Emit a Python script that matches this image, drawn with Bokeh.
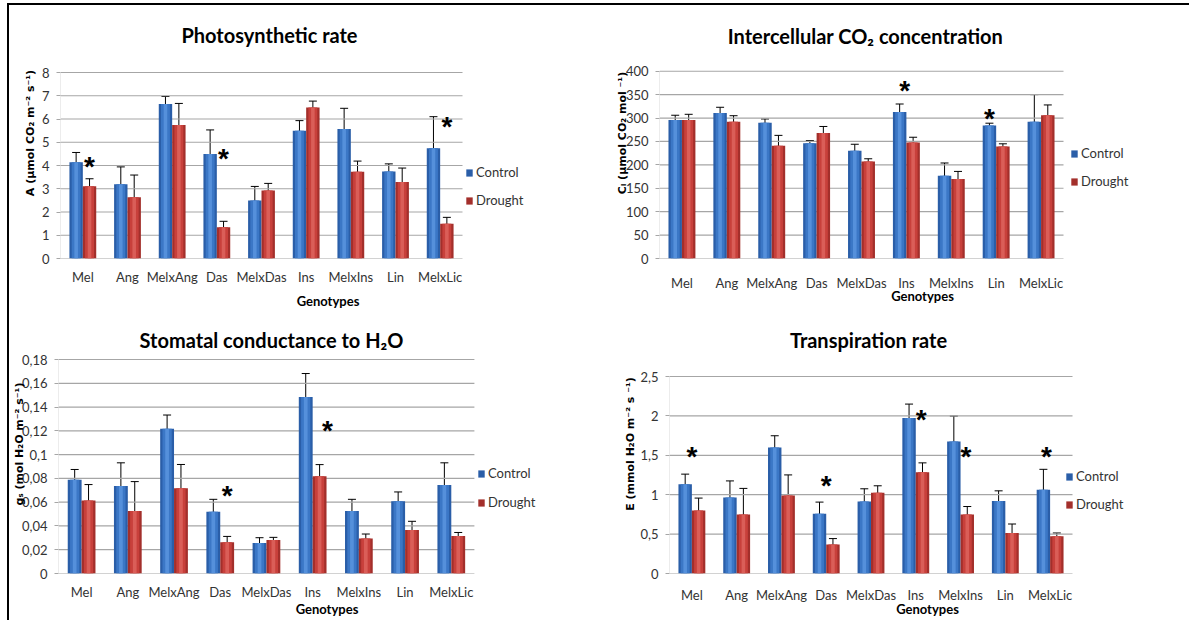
from bokeh.plotting import figure
from bokeh.models import (ColumnDataSource, Range1d, FixedTicker, Whisker, TeeHead, Legend,
                          LegendItem, Label)
from bokeh.layouts import column, row
from bokeh.embed import file_html
from bokeh.resources import INLINE
from bokeh.core.properties import value

# ---------------- data ----------------
genotypes = ["Mel", "Ang", "MelxAng", "Das", "MelxDas", "Ins", "MelxIns", "Lin", "MelxLic"]
series_names = ["Control", "Drought"]

# Photosynthetic rate A
A_control = [4.14, 3.19, 6.64, 4.50, 2.50, 5.50, 5.57, 3.74, 4.74]
A_control_err = [0.42, 0.75, 0.33, 1.03, 0.60, 0.43, 0.89, 0.33, 1.36]
A_drought = [3.11, 2.63, 5.74, 1.34, 2.93, 6.50, 3.73, 3.29, 1.49]
A_drought_err = [0.32, 0.96, 0.93, 0.26, 0.30, 0.27, 0.46, 0.60, 0.28]
A_stars = [("Mel", 0.15, 4.07), ("Das", 0.15, 4.43), ("MelxLic", 0.15, 5.79)]
A_yticks = [0, 1, 2, 3, 4, 5, 6, 7, 8]
A_yticklabels = ["0", "1", "2", "3", "4", "5", "6", "7", "8"]

# Intercellular CO2 concentration Ci
Ci_control = [296, 311, 290, 246, 230, 313, 177, 284, 292]
Ci_control_err = [10, 12, 8, 6, 14, 17, 27, 5, 58]
Ci_drought = [296, 292, 241, 268, 207, 248, 170, 239, 306]
Ci_drought_err = [12, 13, 22, 14, 6, 11, 16, 6, 22]
Ci_stars = [("Ins", -0.04, 365), ("Lin", -0.15, 306)]
Ci_yticks = [0, 50, 100, 150, 200, 250, 300, 350, 400]
Ci_yticklabels = ["0", "50", "100", "150", "200", "250", "300", "350", "400"]

# Stomatal conductance gs
gs_control = [0.0788, 0.0737, 0.1218, 0.0520, 0.0256, 0.1485, 0.0526, 0.0608, 0.0745]
gs_control_err = [0.0087, 0.0194, 0.0115, 0.0104, 0.0045, 0.0197, 0.0098, 0.0078, 0.0186]
gs_drought = [0.0613, 0.0526, 0.0717, 0.0262, 0.0281, 0.0818, 0.0295, 0.0366, 0.0315]
gs_drought_err = [0.0135, 0.0247, 0.0200, 0.0050, 0.0023, 0.0098, 0.0037, 0.0073, 0.0030]
gs_stars = [("Das", 0.15, 0.0683), ("Ins", 0.32, 0.1232)]
gs_yticks = [0, 0.02, 0.04, 0.06, 0.08, 0.1, 0.12, 0.14, 0.16, 0.18]
gs_yticklabels = ["0", "0,02", "0,04", "0,06", "0,08", "0,1", "0,12", "0,14", "0,16", "0,18"]

# Transpiration rate E
E_control = [1.134, 0.965, 1.598, 0.759, 0.915, 1.973, 1.674, 0.919, 1.062]
E_control_err = [0.127, 0.210, 0.150, 0.147, 0.160, 0.177, 0.324, 0.130, 0.260]
E_drought = [0.801, 0.750, 0.991, 0.367, 1.024, 1.286, 0.750, 0.514, 0.472]
E_drought_err = [0.156, 0.330, 0.260, 0.076, 0.089, 0.118, 0.100, 0.114, 0.042]
E_stars = [("Mel", 0.0, 1.526), ("Das", 0.0, 1.159), ("Ins", 0.12, 1.99),
           ("MelxIns", 0.12, 1.526), ("MelxLic", -0.08, 1.526)]
E_yticks = [0, 0.5, 1, 1.5, 2, 2.5]
E_yticklabels = ["0", "0,5", "1", "1,5", "2", "2,5"]

# ---------------- styling ----------------
FONT = "Lato"
YFONT = "DejaVu Sans"
BLUE = ("#2a5ea8", "#3b77c6", "#5590db")
RED = ("#a32f2b", "#c8403b", "#da5e58")
TXT = "#333333"
GRID = "#a6a6a6"


def make_panel(title, ylabel, ymax, yticks, yticklabels, ctrl, ctrl_err, drt, drt_err, stars, g):
    n = len(genotypes)
    xc = [i + 0.5 for i in range(n)]
    fh = g["h"] - g["t"] - g["b"]
    FW = g["w"] - g["l"] - 4
    FH = g["h"] - g["b"] - 2
    p = figure(x_range=Range1d(0, n * FW / g["fw"]), y_range=Range1d(0, ymax * FH / fh),
               width=g["w"], height=g["h"], output_backend="svg", toolbar_location=None,
               min_border_left=g["l"], min_border_right=4, min_border_top=2,
               min_border_bottom=g["b"])
    p.outline_line_color = None
    p.xgrid.grid_line_color = None
    p.ygrid.grid_line_color = None

    # horizontal gridlines over the category span, and the faint value axis line
    p.segment(x0=[0] * len(yticks), x1=[n] * len(yticks), y0=yticks, y1=yticks,
              line_color=GRID, line_width=1.2)
    p.segment(x0=[0], x1=[0], y0=[0], y1=[ymax], line_color="#d9d9d9", line_width=1)

    p.yaxis.ticker = FixedTicker(ticks=yticks)
    p.yaxis.major_label_overrides = {t: s for t, s in zip(yticks, yticklabels)}
    p.yaxis.axis_line_color = None
    p.yaxis.major_tick_in = 0
    p.yaxis.major_tick_out = 4
    p.yaxis.major_tick_line_color = GRID
    p.yaxis.minor_tick_line_color = None
    p.yaxis.major_label_standoff = 7
    p.yaxis.axis_label = ylabel
    p.yaxis.axis_label_standoff = g["yls"]
    p.yaxis.axis_label_text_font = YFONT
    p.yaxis.axis_label_text_font_size = "11px"
    p.xaxis.ticker = FixedTicker(ticks=xc)
    p.xaxis.major_label_overrides = {x: s for x, s in zip(xc, genotypes)}
    p.xaxis.axis_line_color = None
    p.xaxis.major_tick_line_color = None
    p.xaxis.minor_tick_line_color = None
    p.xaxis.major_tick_out = 0
    p.xaxis.major_label_standoff = g["xls"]
    p.xaxis.axis_label = "Genotypes"
    p.xaxis.axis_label_standoff = g["gls"]
    p.xaxis.axis_label_text_font = FONT
    p.xaxis.axis_label_text_font_size = "13px"
    for ax in (p.xaxis, p.yaxis):
        ax.major_label_text_font = FONT
        ax.major_label_text_font_size = "13px"
        ax.major_label_text_color = TXT
        ax.axis_label_text_font_style = "bold"
        ax.axis_label_text_color = "black"

    src = ColumnDataSource(dict(
        xcc=[x - 0.15 for x in xc], xcd=[x + 0.15 for x in xc], c=ctrl, d=drt,
        cu=[v + e for v, e in zip(ctrl, ctrl_err)], cl=[v - e for v, e in zip(ctrl, ctrl_err)],
        du=[v + e for v, e in zip(drt, drt_err)], dl=[v - e for v, e in zip(drt, drt_err)]))

    rends = []
    for xf, col, cols in (("xcc", "c", BLUE), ("xcd", "d", RED)):
        r = p.vbar(x=xf, top=col, width=0.3, source=src, fill_color=cols[0], line_color=None)
        p.vbar(x=xf, top=col, width=0.2, source=src, fill_color=cols[1], line_color=None)
        p.vbar(x=xf, top=col, width=0.08, source=src, fill_color=cols[2], line_color=None)
        rends.append(r)

    for xf, u, l in (("xcc", "cu", "cl"), ("xcd", "du", "dl")):
        w = Whisker(source=src, base=xf, upper=u, lower=l,
                    dimension="height", line_color="black", line_width=1,
                    upper_head=TeeHead(size=8, line_color="black", line_width=1),
                    lower_head=TeeHead(size=8, line_color="black", line_width=1))
        p.add_layout(w)

    ssrc = ColumnDataSource(dict(x=[genotypes.index(s[0]) + 0.5 + s[1] for s in stars],
                                 y=[s[2] for s in stars], t=["*"] * len(stars)))
    p.text(x="x", y="y", text="t", source=ssrc, text_font=value("Liberation Sans"),
           text_font_style="bold", text_font_size="28px", text_align="center",
           text_baseline="alphabetic", y_offset=3, text_color="black")

    legend = Legend(items=[LegendItem(label=series_names[0], renderers=[rends[0]]),
                           LegendItem(label=series_names[1], renderers=[rends[1]])],
                    location=(g["lgx"], g["lgy"]), orientation="vertical",
                    glyph_width=8, glyph_height=9, label_standoff=3, spacing=g["lgs"],
                    padding=0, margin=0, border_line_color=None, background_fill_alpha=0,
                    label_text_font=FONT, label_text_font_size="13px", label_text_color=TXT,
                    label_height=20)
    p.add_layout(legend)

    p.add_layout(Label(x=g["tx"], y=g["ty"], x_units="screen", y_units="screen", text=title,
                       text_font=FONT, text_font_style="bold", text_font_size="20px",
                       text_align="center", text_baseline="middle", text_color="black"))
    return p


geo_A = dict(w=590, h=307, l=51, fw=402, t=67, b=54, xls=10, gls=5, yls=2,
             tx=209, ty=224, lgx=405, lgy=48, lgs=8)
geo_Ci = dict(w=590, h=307, l=60, fw=404, t=67, b=49, xls=16, gls=-6, yls=-6,
              tx=206, ty=223, lgx=411, lgy=67, lgs=8)
geo_gs = dict(w=590, h=308, l=45, fw=419, t=47, b=47, xls=10, gls=-2, yls=-7,
              tx=213, ty=234, lgx=419, lgy=61, lgs=9)
geo_E = dict(w=590, h=308, l=70, fw=403, t=64, b=47, xls=13, gls=-5, yls=0,
             tx=199, ty=234, lgx=396, lgy=59, lgs=8)

p1 = make_panel("Photosynthetic rate", "A (µmol CO₂ m⁻² s⁻¹)", 8, A_yticks, A_yticklabels,
                A_control, A_control_err, A_drought, A_drought_err, A_stars, geo_A)
p2 = make_panel("Intercellular CO₂ concentration", "Cᵢ (µmol CO₂ mol ⁻¹)", 400, Ci_yticks,
                Ci_yticklabels, Ci_control, Ci_control_err, Ci_drought, Ci_drought_err,
                Ci_stars, geo_Ci)
p3 = make_panel("Stomatal conductance to H₂O", "gₛ (mol H₂O m⁻² s⁻¹)", 0.18, gs_yticks,
                gs_yticklabels, gs_control, gs_control_err, gs_drought, gs_drought_err,
                gs_stars, geo_gs)
p4 = make_panel("Transpiration rate", "E (mmol H₂O m⁻² s ⁻¹)", 2.5, E_yticks, E_yticklabels,
                E_control, E_control_err, E_drought, E_drought_err, E_stars, geo_E)

layout = column(row(p1, p2), row(p3, p4))
layout.styles = {"margin-top": "3px", "margin-left": "7px",
                 "border-top": "2px solid black", "border-left": "2px solid black"}

open("out.html", "w").write(file_html(layout, INLINE))
